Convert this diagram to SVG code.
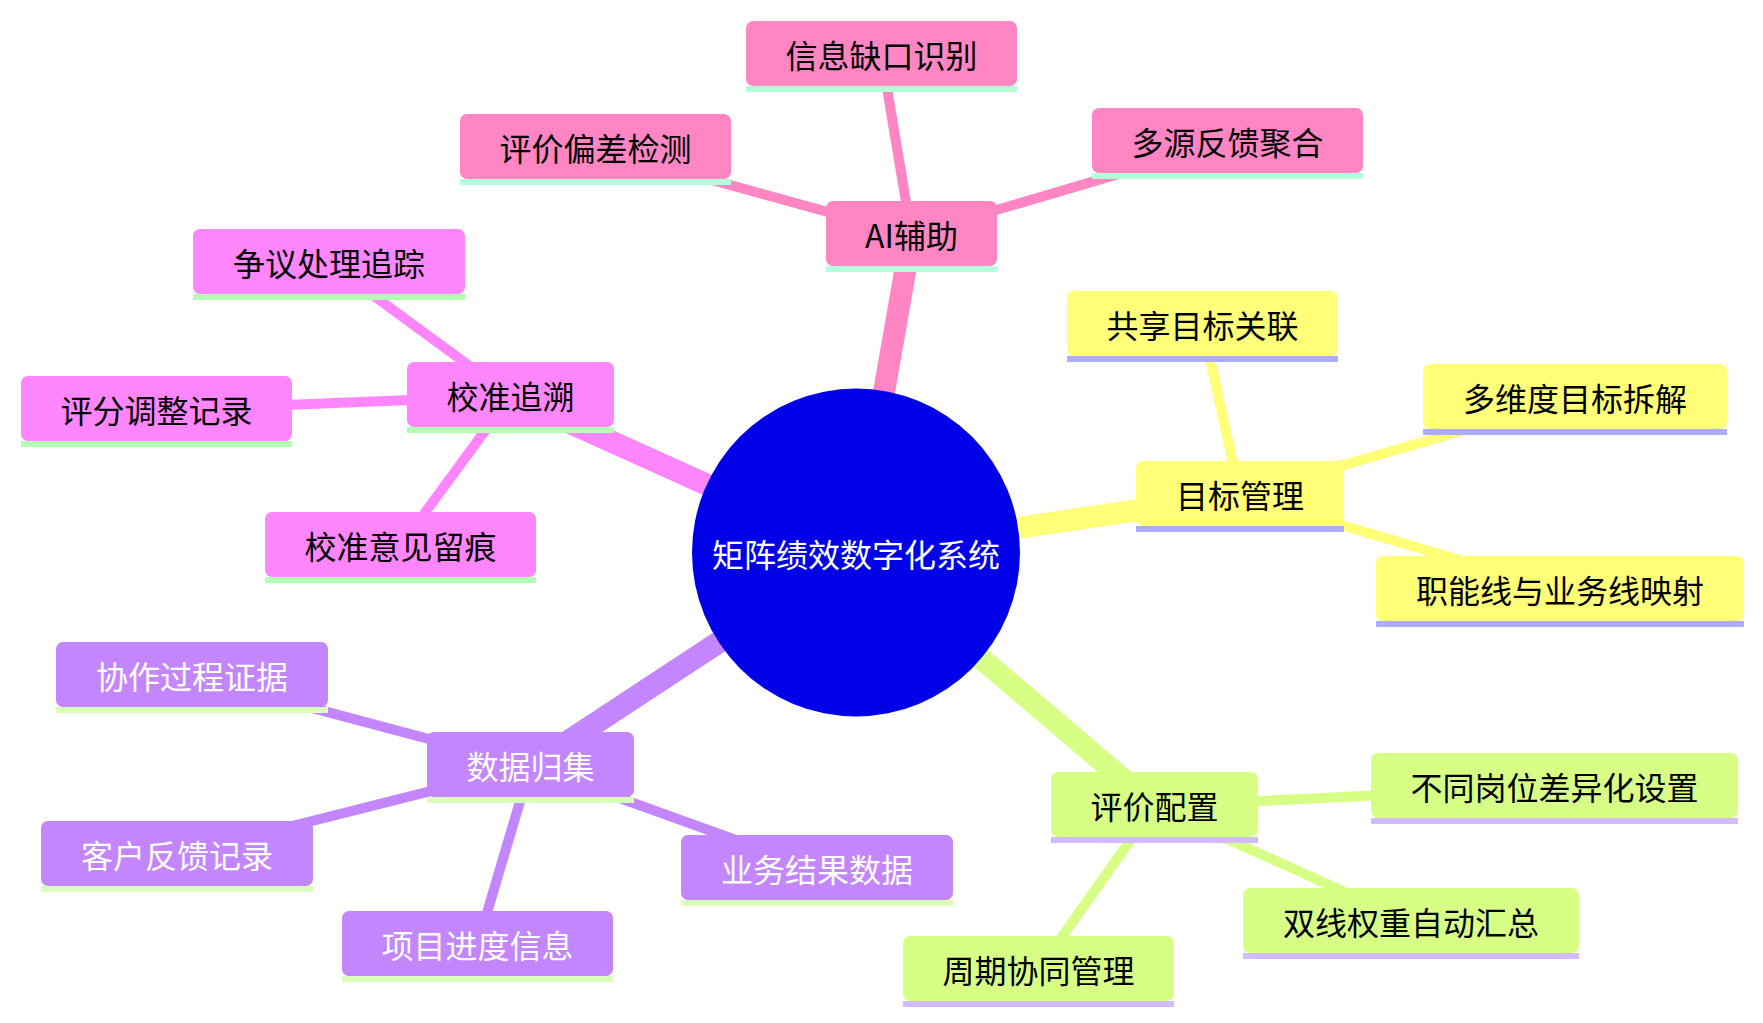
<svg xmlns="http://www.w3.org/2000/svg" width="1763" height="1023" viewBox="0 0 1763 1023">
<style>
text{font-family:"Noto Sans CJK SC","Noto Sans",sans-serif;font-size:32px;text-anchor:middle;dominant-baseline:central;fill:#000}
.e{fill:none;stroke-linecap:butt}
.r{stroke-width:22}
.c{stroke-width:10}
.s0 rect{fill:#ff86c3}.s0 line{stroke:#b3ffd9}.e0{stroke:#ff86c3}
.s1 rect{fill:#ff86ff}.s1 line{stroke:#b3ffb3}.e1{stroke:#ff86ff}
.s2 rect{fill:#ffff78}.s2 line{stroke:#adadff}.e2{stroke:#ffff78}
.s3 rect{fill:#d7ff86}.s3 line{stroke:#d0bcff}.e3{stroke:#d7ff86}
.s4 rect{fill:#c386ff}.s4 line{stroke:#daffbb}.e4{stroke:#c386ff}
.s4 text{fill:#fff}
line{stroke-width:6}
</style>
<rect width="1763" height="1023" fill="#fff"/>
<g id="connectors">
<line class="e e0 r" x1="856" y1="552" x2="911.5" y2="235"/>
<line class="e e1 r" x1="856" y1="552" x2="510.5" y2="396"/>
<line class="e e2 r" x1="856" y1="552" x2="1240" y2="495"/>
<line class="e e3 r" x1="856" y1="552" x2="1154.5" y2="806"/>
<line class="e e4 r" x1="856" y1="552" x2="530.5" y2="766"/>
<line class="e e0 c" x1="911.5" y1="235" x2="881.5" y2="55"/>
<line class="e e0 c" x1="911.5" y1="235" x2="595.5" y2="148"/>
<line class="e e0 c" x1="911.5" y1="235" x2="1227.5" y2="142"/>
<line class="e e1 c" x1="510.5" y1="396" x2="329" y2="263"/>
<line class="e e1 c" x1="510.5" y1="396" x2="156.5" y2="410"/>
<line class="e e1 c" x1="510.5" y1="396" x2="400.5" y2="546"/>
<line class="e e2 c" x1="1240" y1="495" x2="1202.5" y2="325"/>
<line class="e e2 c" x1="1240" y1="495" x2="1575" y2="398"/>
<line class="e e2 c" x1="1240" y1="495" x2="1560" y2="590"/>
<line class="e e3 c" x1="1154.5" y1="806" x2="1554.5" y2="787"/>
<line class="e e3 c" x1="1154.5" y1="806" x2="1411" y2="922"/>
<line class="e e3 c" x1="1154.5" y1="806" x2="1038.5" y2="970"/>
<line class="e e4 c" x1="530.5" y1="766" x2="192" y2="676"/>
<line class="e e4 c" x1="530.5" y1="766" x2="177" y2="855"/>
<line class="e e4 c" x1="530.5" y1="766" x2="817" y2="869"/>
<line class="e e4 c" x1="530.5" y1="766" x2="477.5" y2="945"/>
</g>
<g id="root">
<circle cx="856" cy="552.5" r="164" fill="#0000e8"/>
<text x="856" y="553" fill="#fff" style="fill:#fff">矩阵绩效数字化系统</text>
</g>
<g id="ai" class="s0"><rect x="826" y="201" width="171" height="65" rx="7"/><line x1="826" y1="269" x2="997" y2="269"/><text x="911.5" y="234">AI辅助</text></g>
<g id="gap" class="s0"><rect x="746" y="21" width="271" height="65" rx="7"/><line x1="746" y1="89" x2="1017" y2="89"/><text x="881.5" y="54">信息缺口识别</text></g>
<g id="bias" class="s0"><rect x="460" y="114" width="271" height="65" rx="7"/><line x1="460" y1="182" x2="731" y2="182"/><text x="595.5" y="147">评价偏差检测</text></g>
<g id="multi" class="s0"><rect x="1092" y="108" width="271" height="65" rx="7"/><line x1="1092" y1="176" x2="1363" y2="176"/><text x="1227.5" y="141">多源反馈聚合</text></g>
<g id="cal" class="s1"><rect x="407" y="362" width="207" height="65" rx="7"/><line x1="407" y1="430" x2="614" y2="430"/><text x="510.5" y="395">校准追溯</text></g>
<g id="dispute" class="s1"><rect x="193" y="229" width="272" height="65" rx="7"/><line x1="193" y1="297" x2="465" y2="297"/><text x="329" y="262">争议处理追踪</text></g>
<g id="score" class="s1"><rect x="21" y="376" width="271" height="65" rx="7"/><line x1="21" y1="444" x2="292" y2="444"/><text x="156.5" y="409">评分调整记录</text></g>
<g id="trace" class="s1"><rect x="265" y="512" width="271" height="65" rx="7"/><line x1="265" y1="580" x2="536" y2="580"/><text x="400.5" y="545">校准意见留痕</text></g>
<g id="goal" class="s2"><rect x="1136" y="461" width="208" height="65" rx="7"/><line x1="1136" y1="529" x2="1344" y2="529"/><text x="1240" y="494">目标管理</text></g>
<g id="shared" class="s2"><rect x="1067" y="291" width="271" height="65" rx="7"/><line x1="1067" y1="359" x2="1338" y2="359"/><text x="1202.5" y="324">共享目标关联</text></g>
<g id="multidim" class="s2"><rect x="1423" y="364" width="304" height="65" rx="7"/><line x1="1423" y1="432" x2="1727" y2="432"/><text x="1575" y="397">多维度目标拆解</text></g>
<g id="mapping" class="s2"><rect x="1376" y="556" width="368" height="65" rx="7"/><line x1="1376" y1="624" x2="1744" y2="624"/><text x="1560" y="589">职能线与业务线映射</text></g>
<g id="eval" class="s3"><rect x="1051" y="772" width="207" height="65" rx="7"/><line x1="1051" y1="840" x2="1258" y2="840"/><text x="1154.5" y="805">评价配置</text></g>
<g id="diff" class="s3"><rect x="1371" y="753" width="367" height="65" rx="7"/><line x1="1371" y1="821" x2="1738" y2="821"/><text x="1554.5" y="786">不同岗位差异化设置</text></g>
<g id="weight" class="s3"><rect x="1243" y="888" width="336" height="65" rx="7"/><line x1="1243" y1="956" x2="1579" y2="956"/><text x="1411" y="921">双线权重自动汇总</text></g>
<g id="cycle" class="s3"><rect x="903" y="936" width="271" height="65" rx="7"/><line x1="903" y1="1004" x2="1174" y2="1004"/><text x="1038.5" y="969">周期协同管理</text></g>
<g id="data" class="s4"><rect x="427" y="732" width="207" height="65" rx="7"/><line x1="427" y1="800" x2="634" y2="800"/><text x="530.5" y="765">数据归集</text></g>
<g id="collab" class="s4"><rect x="56" y="642" width="272" height="65" rx="7"/><line x1="56" y1="710" x2="328" y2="710"/><text x="192" y="675">协作过程证据</text></g>
<g id="customer" class="s4"><rect x="41" y="821" width="272" height="65" rx="7"/><line x1="41" y1="889" x2="313" y2="889"/><text x="177" y="854">客户反馈记录</text></g>
<g id="result" class="s4"><rect x="681" y="835" width="272" height="65" rx="7"/><line x1="681" y1="903" x2="953" y2="903"/><text x="817" y="868">业务结果数据</text></g>
<g id="progress" class="s4"><rect x="342" y="911" width="271" height="65" rx="7"/><line x1="342" y1="979" x2="613" y2="979"/><text x="477.5" y="944">项目进度信息</text></g>
</svg>
